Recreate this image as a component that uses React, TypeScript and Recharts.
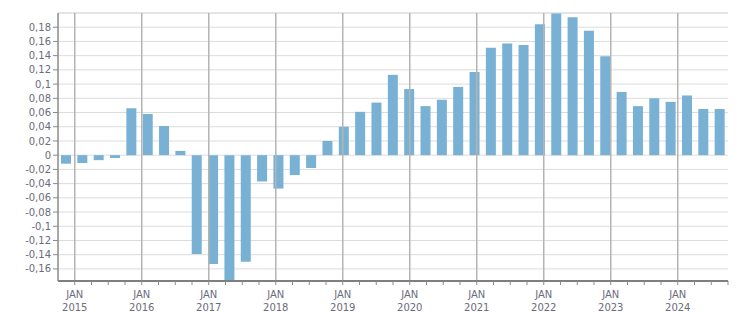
import React from 'react';
import { BarChart, Bar, XAxis, YAxis, CartesianGrid, ReferenceLine } from 'recharts';

// Quarterly values, Q4 2014 .. Q4 2024
const quarters = [
  '2014Q4',
  '2015Q1', '2015Q2', '2015Q3', '2015Q4',
  '2016Q1', '2016Q2', '2016Q3', '2016Q4',
  '2017Q1', '2017Q2', '2017Q3', '2017Q4',
  '2018Q1', '2018Q2', '2018Q3', '2018Q4',
  '2019Q1', '2019Q2', '2019Q3', '2019Q4',
  '2020Q1', '2020Q2', '2020Q3', '2020Q4',
  '2021Q1', '2021Q2', '2021Q3', '2021Q4',
  '2022Q1', '2022Q2', '2022Q3', '2022Q4',
  '2023Q1', '2023Q2', '2023Q3', '2023Q4',
  '2024Q1', '2024Q2', '2024Q3', '2024Q4',
];

const values = [
  -0.012,
  -0.011, -0.007, -0.004, 0.066,
  0.058, 0.041, 0.006, -0.139,
  -0.153, -0.177, -0.15, -0.037,
  -0.047, -0.028, -0.018, 0.02,
  0.04, 0.061, 0.074, 0.113,
  0.093, 0.069, 0.078, 0.096,
  0.117, 0.151, 0.157, 0.155,
  0.184, 0.2, 0.194, 0.175,
  0.139, 0.089, 0.069, 0.08,
  0.075, 0.084, 0.065, 0.065,
];

const yTicks = [-0.16, -0.14, -0.12, -0.1, -0.08, -0.06, -0.04, -0.02, 0, 0.02, 0.04, 0.06, 0.08, 0.1, 0.12, 0.14, 0.16, 0.18];

// quarter boundaries on the time axis (0 = Oct 2014)
const quarterTicks = Array.from({ length: 40 }, (_, i) => i + 1);
const janYears = ['2015', '2016', '2017', '2018', '2019', '2020', '2021', '2022', '2023', '2024'];

const data = quarters.map((q, i) => ({ q, value: values[i] }));

const FONT = '"DejaVu Sans", Verdana, sans-serif';
const TEXT = '#6b6b7b';

function TimeTick(props: any) {
  const { x, y, payload } = props;
  const k = payload.value;
  if ((k - 1) % 4 !== 0) return null;
  const year = janYears[(k - 1) / 4];
  return (
    <g>
      <text x={x} y={y + 11} textAnchor="middle" fontSize={10} fontFamily={FONT} fill={TEXT}>JAN</text>
      <text x={x} y={y + 24} textAnchor="middle" fontSize={10} fontFamily={FONT} fill={TEXT}>{year}</text>
    </g>
  );
}

export default function App() {
  return (
    <div style={{ position: 'absolute', left: 0, top: 0, background: '#fff' }}>
      <BarChart width={751} height={313} data={data} margin={{ top: 13, right: 23, left: 0, bottom: 2 }}>
        <CartesianGrid xAxisId="c" vertical={false} stroke="#dcdcdc" strokeWidth={1} />
        <XAxis xAxisId="c" dataKey="q" hide height={0} />
        <XAxis
          xAxisId="t"
          type="number"
          domain={[0, 41]}
          ticks={quarterTicks}
          interval={0}
          height={30}
          axisLine={{ stroke: '#7f7f7f', strokeWidth: 2 }}
          tickLine={{ stroke: '#8a8a8a' }}
          tickSize={4}
          tick={<TimeTick />}
        />
        <YAxis
          domain={[-0.177, 0.2]}
          ticks={yTicks}
          interval={0}
          width={58}
          allowDataOverflow
          axisLine={{ stroke: '#8a8a8a', strokeWidth: 1.5 }}
          tickLine={{ stroke: '#8a8a8a' }}
          tickSize={5}
          tickFormatter={(v: number) => String(v).replace('.', ',')}
          tick={{ fontSize: 10, fontFamily: FONT, fill: TEXT }}
        />
        <ReferenceLine xAxisId="c" y={0.2} stroke="#dcdcdc" />
        {janYears.map((yr, i) => (
          <ReferenceLine key={yr} xAxisId="t" x={1 + i * 4} stroke="#b4b4b4" strokeWidth={1.5} />
        ))}
        <ReferenceLine xAxisId="t" x={41} stroke="#dcdcdc" strokeWidth={1.5} />
        <Bar xAxisId="c" dataKey="value" fill="#78b1d4" barSize={10} isAnimationActive={false} />
      </BarChart>
    </div>
  );
}
